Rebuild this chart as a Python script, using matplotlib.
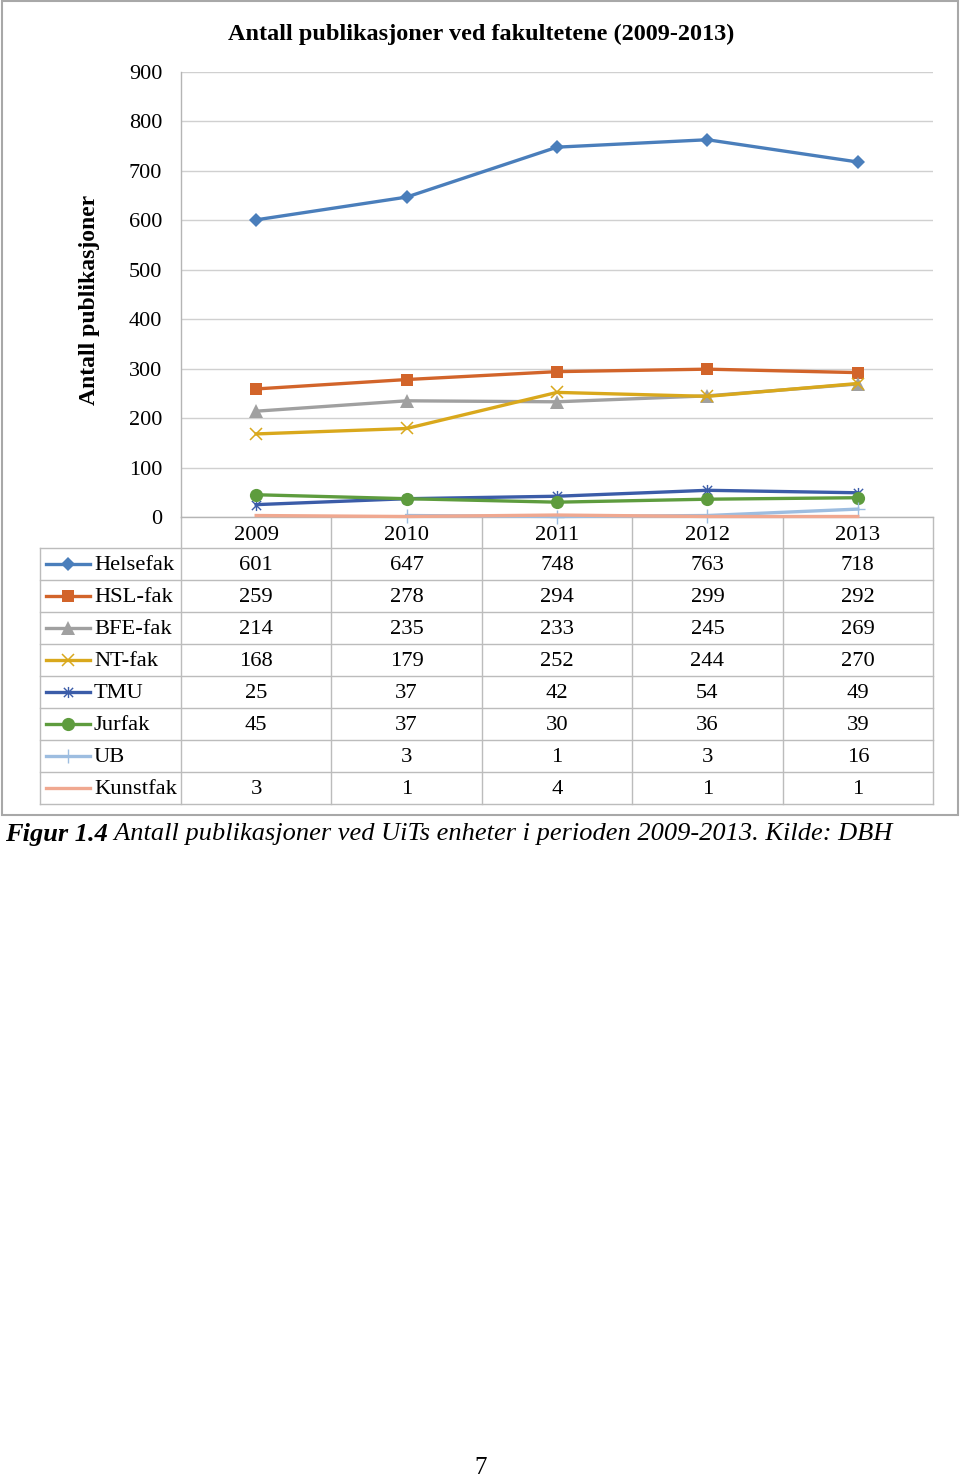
import matplotlib
matplotlib.use('Agg')
import matplotlib.pyplot as plt
import numpy as np
from matplotlib import transforms
from matplotlib.path import Path
from matplotlib.patches import Rectangle

# ---------------- data ----------------
years = ['2009', '2010', '2011', '2012', '2013']
series_names = ['Helsefak', 'HSL-fak', 'BFE-fak', 'NT-fak', 'TMU', 'Jurfak', 'UB', 'Kunstfak']
helsefak = [601, 647, 748, 763, 718]
hsl_fak = [259, 278, 294, 299, 292]
bfe_fak = [214, 235, 233, 245, 269]
nt_fak = [168, 179, 252, 244, 270]
tmu = [25, 37, 42, 54, 49]
jurfak = [45, 37, 30, 36, 39]
ub = [None, 3, 1, 3, 16]
kunstfak = [3, 1, 4, 1, 1]
y_ticks = [0, 100, 200, 300, 400, 500, 600, 700, 800, 900]
title = 'Antall publikasjoner ved fakultetene (2009-2013)'
ylabel = 'Antall publikasjoner'
caption_bold = 'Figur 1.4'
caption_rest = 'Antall publikasjoner ved UiTs enheter i perioden 2009-2013. Kilde: DBH'
page_no = '7'

series_values = [helsefak, hsl_fak, bfe_fak, nt_fak, tmu, jurfak, ub, kunstfak]

# ---------------- styles ----------------
star = Path([(-1, -1), (1, 1), (-1, 1), (1, -1), (0, -1.2), (0, 1.2)],
            [Path.MOVETO, Path.LINETO, Path.MOVETO, Path.LINETO, Path.MOVETO, Path.LINETO])
styles = [
    dict(color='#4A7EBB', marker='D', ms=7.5, mew=0),
    dict(color='#D2642A', marker='s', ms=8.5, mew=0),
    dict(color='#A0A0A0', marker='^', ms=9.5, mew=0),
    dict(color='#D9A81C', marker='x', ms=8.5, mew=1.1),
    dict(color='#3B5CA8', marker=star, ms=8, mew=1.0),
    dict(color='#5E9C3E', marker='o', ms=9.5, mew=0),
    dict(color='#9DBDE0', marker='+', ms=10, mew=1.0),
    dict(color='#F0A890', marker=None, ms=0, mew=0),
]

plt.rcParams['font.family'] = ['Liberation Serif', 'DejaVu Serif']
W, H = 960, 1479
fig = plt.figure(figsize=(W / 100, H / 100), dpi=100)
fig.patch.set_facecolor('white')

# overlay axes in pixel coordinates
ov = fig.add_axes([0, 0, 1, 1], zorder=0)
ov.set_xlim(0, W)
ov.set_ylim(H, 0)
ov.axis('off')

# main plot axes
ax_l, ax_r, ax_t, ax_b = 181, 933, 72, 517
ax = fig.add_axes([ax_l / W, 1 - ax_b / H, (ax_r - ax_l) / W, (ax_b - ax_t) / H], zorder=2)
ax.set_facecolor('none')
x = np.arange(len(years))
ax.set_xlim(-0.5, len(years) - 0.5)
ax.set_ylim(0, 900)
ax.set_yticks(y_ticks)
ax.set_xticks([])
ax.grid(axis='y', color='#D0D0D0', lw=1.0)
ax.set_axisbelow(True)
for s in ['top', 'right']:
    ax.spines[s].set_visible(False)
for s in ['left', 'bottom']:
    ax.spines[s].set_color('#B5B5B5')
    ax.spines[s].set_linewidth(1.0)
ax.tick_params(axis='y', length=0, pad=13.5, labelsize=16)

for vals, st in zip(series_values, styles):
    v = np.array(vals, dtype=float)
    ax.plot(x, v, color=st['color'], lw=2.4, marker=st['marker'], ms=st['ms'],
            mew=st['mew'], mec=st['color'], mfc=st['color'], clip_on=False, zorder=3)

# outer border
ov.add_patch(Rectangle((2, 1), 956, 814, fill=False, ec='#A8A8A8', lw=1.5))

# title & y label
ov.text(481, 34, title, ha='center', va='center', fontsize=17.5, fontweight='bold')
ov.text(89, 300, ylabel, ha='center', va='center', rotation=90, fontsize=17, fontweight='bold')

# ---------------- data table ----------------
bt = transforms.blended_transform_factory(ax.transData, ov.transData)
tcol = '#BCBCBC'
row_h = 32
hdr_top, hdr_bot = 517, 548
rows_top = [hdr_bot + i * row_h for i in range(len(series_names) + 1)]
tbl_left = 40

for yy in rows_top:
    ov.plot([tbl_left, ax_r], [yy, yy], color=tcol, lw=1.0)
ov.plot([tbl_left, tbl_left], [hdr_bot, rows_top[-1]], color=tcol, lw=1.0)
for b in np.arange(-0.5, len(years), 1.0):
    ov.plot([b, b], [hdr_top, rows_top[-1]], color=tcol, lw=1.0, transform=bt)

tfs = 16.2
for i, yr in enumerate(years):
    ov.text(i, (hdr_top + hdr_bot) / 2 + 2.5, yr, ha='center', va='center', fontsize=tfs, transform=bt)

for r, (name, vals, st) in enumerate(zip(series_names, series_values, styles)):
    yc = rows_top[r] + row_h / 2
    ov.plot([46, 90], [yc, yc], color=st['color'], lw=2.4)
    if st['marker'] is not None:
        ov.plot([68], [yc], color=st['color'], marker=st['marker'], ms=st['ms'],
                mew=st['mew'], mec=st['color'], mfc=st['color'])
    ov.text(94, yc + 2, name, ha='left', va='center', fontsize=tfs)
    for i, v in enumerate(vals):
        if v is not None:
            ov.text(i, yc + 2, str(v), ha='center', va='center', fontsize=tfs, transform=bt)

# caption
t1 = ov.text(5, 834, caption_bold, ha='left', va='center', fontsize=19,
             fontweight='bold', fontstyle='italic')
ov.annotate(' ' + caption_rest, xy=(1, 0.5), xycoords=t1, ha='left', va='center',
            fontsize=19, fontstyle='italic')

ov.text(481, 1468, page_no, ha='center', va='center', fontsize=18)

fig.savefig('out.png', dpi=100)
